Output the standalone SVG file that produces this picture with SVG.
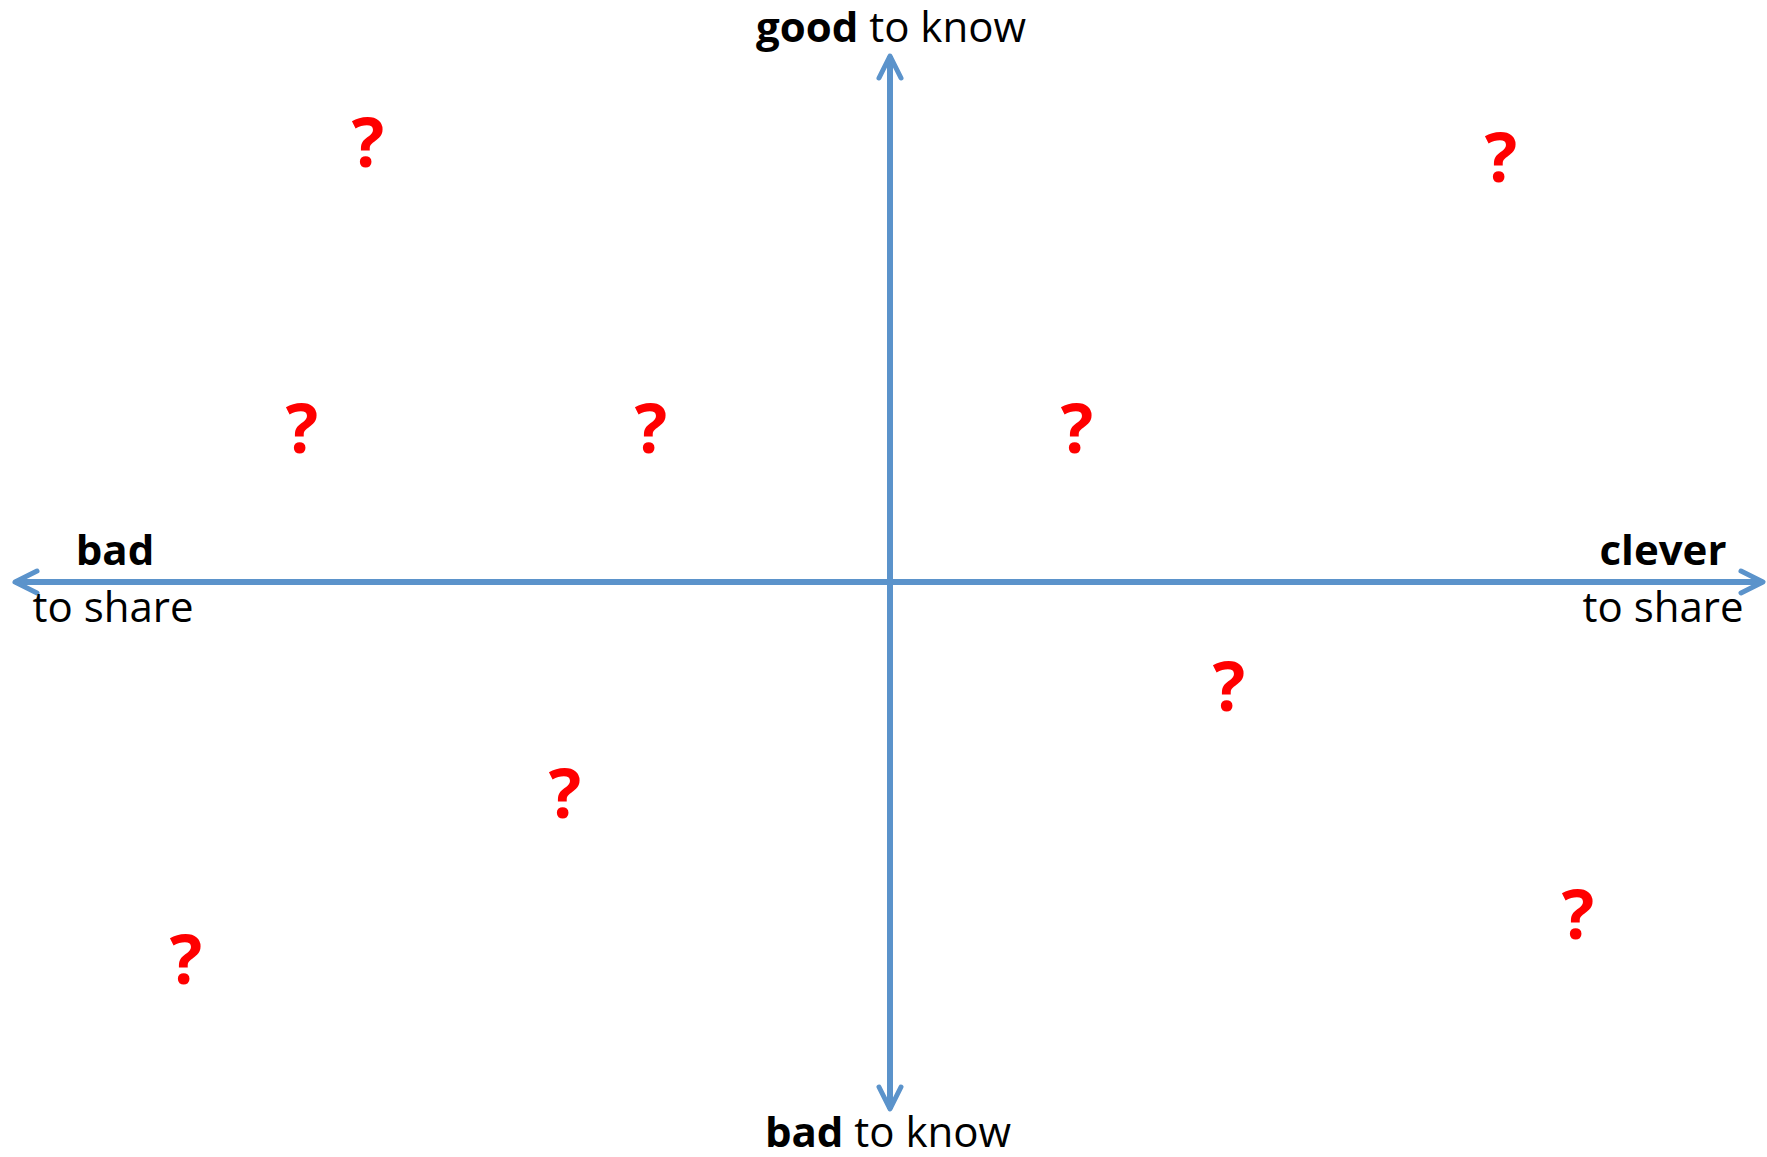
<svg xmlns="http://www.w3.org/2000/svg" width="1767" height="1157" viewBox="0 0 1767 1157">
<style>
.lbl{font-family:"Open Sans","Liberation Sans",sans-serif;font-size:42px;fill:#000;text-anchor:middle}
.b{font-weight:bold}
.q{font-family:"Open Sans","Liberation Sans",sans-serif;font-size:68px;font-weight:bold;fill:#ff0000;text-anchor:middle}
.axis{stroke:#5b93cb;stroke-width:6;fill:none}
</style>
<defs>
<marker id="arr" markerUnits="userSpaceOnUse" markerWidth="40" markerHeight="40" viewBox="-30 -20 40 40" refX="0" refY="0" orient="auto-start-reverse">
<path d="M -22 -11 L 0 0 L -22 11" fill="none" stroke="#5b93cb" stroke-width="5" stroke-linecap="round" stroke-linejoin="round"/>
</marker>
</defs>
<rect width="1767" height="1157" fill="#fff"/>
<g id="connectors">
<line class="axis" x1="15" y1="582" x2="1763" y2="582" marker-start="url(#arr)" marker-end="url(#arr)"/>
<line class="axis" x1="890" y1="56" x2="890" y2="1109" marker-start="url(#arr)" marker-end="url(#arr)"/>
</g>
<g id="label-top"><text class="lbl" x="891" y="42"><tspan class="b">good</tspan> to know</text></g>
<g id="label-bottom"><text class="lbl" x="888" y="1147"><tspan class="b">bad</tspan> to know</text></g>
<g id="label-left"><text class="lbl b" x="115" y="565">bad</text><text class="lbl" x="113" y="622">to share</text></g>
<g id="label-right"><text class="lbl b" x="1663" y="565">clever</text><text class="lbl" x="1663" y="622">to share</text></g>
<g id="questions">
<text class="q" x="368" y="167">?</text>
<text class="q" x="1501" y="182">?</text>
<text class="q" x="302" y="453">?</text>
<text class="q" x="651" y="453">?</text>
<text class="q" x="1077" y="453">?</text>
<text class="q" x="1229" y="711">?</text>
<text class="q" x="565" y="818">?</text>
<text class="q" x="1578" y="939">?</text>
<text class="q" x="186" y="984">?</text>
</g>
</svg>
